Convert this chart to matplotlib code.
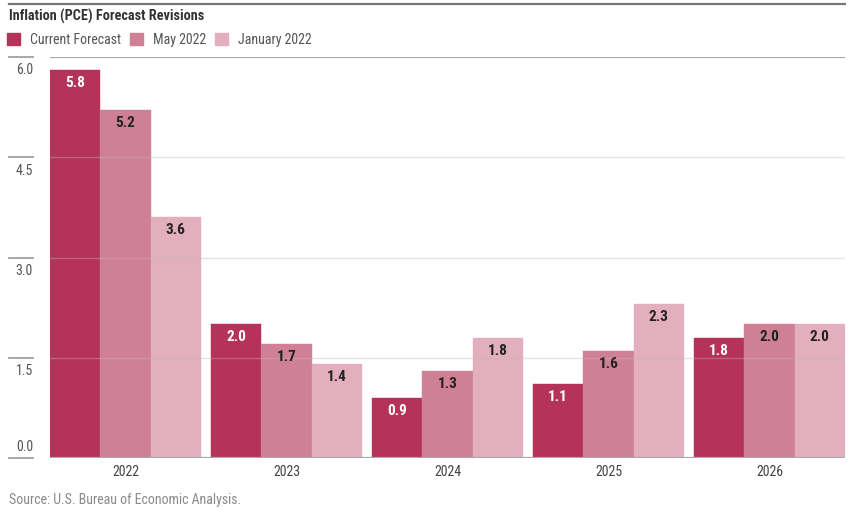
import matplotlib
matplotlib.use("Agg")
import matplotlib.pyplot as plt
import numpy as np
from matplotlib.patches import Patch
from matplotlib.lines import Line2D
from matplotlib import font_manager

names = {f.name for f in font_manager.fontManager.ttflist}
cands = ['Roboto Condensed', 'DejaVu Sans Condensed', 'Liberation Sans Narrow', 'Open Sans Condensed']
chosen = [c for c in cands if c in names]
narrow = bool(chosen)
plt.rcParams['font.family'] = chosen + ['Roboto', 'DejaVu Sans']
scale = 1.0 if narrow else 0.9

years = ["2022", "2023", "2024", "2025", "2026"]
series_names = ["Current Forecast", "May 2022", "January 2022"]
current = [5.8, 2.0, 0.9, 1.1, 1.8]
may2022 = [5.2, 1.7, 1.3, 1.6, 2.0]
jan2022 = [3.6, 1.4, 1.8, 2.3, 2.0]
yticks = [0.0, 1.5, 3.0, 4.5, 6.0]
colors = ["#B5325A", "#CF7F96", "#E3AEBE"]
label_colors = ["white", "#222222", "#222222"]

W, H = 859, 515
fig = plt.figure(figsize=(W / 100, H / 100), dpi=100)
ax = fig.add_axes([50 / W, 1 - 458 / H, (845 - 50) / W, (458 - 57) / H])

fs = 10 * scale
x = np.arange(len(years))
bw = 0.3126
for i, (vals, c, lc) in enumerate(zip([current, may2022, jan2022], colors, label_colors)):
    pos = x + (i - 1) * bw
    bars = ax.bar(pos, vals, width=bw, color=c, edgecolor=c, linewidth=0.3, zorder=2)
    for b, v in zip(bars, vals):
        ax.annotate(f"{v:.1f}", (b.get_x() + b.get_width() / 2, v),
                    xytext=(0, -13), textcoords="offset pixels",
                    ha="center", va="center", fontsize=11 * scale, fontweight="bold",
                    color=lc, zorder=4)

ax.set_xlim(-1.5 * bw, len(years) - 1 + 1.5 * bw)
ax.set_ylim(0, 6)
for s in ax.spines.values():
    s.set_visible(False)
ax.set_yticks([])
ax.set_xticks(x)
ax.set_xticklabels(years, fontsize=fs, color="#444444")
ax.tick_params(axis="x", length=0, pad=5)

for yv in yticks:
    if yv in (0.0, 6.0):
        ax.axhline(yv, color="#a8a8a8", lw=1.6, zorder=3)
    else:
        ax.axhline(yv, color="#bbbbbb", lw=1.0, alpha=0.4, zorder=3)

trans = matplotlib.transforms.blended_transform_factory(fig.transFigure, ax.transData)
for yv in yticks:
    ax.add_line(Line2D([9 / W, 33 / W], [yv, yv], transform=trans, color="#a8a8a8",
                       lw=1.4, clip_on=False))
    if yv == 0.0:
        ax.text(33 / W, yv + 0.06, f"{yv:.1f}", transform=trans, ha="right", va="bottom",
                fontsize=fs, color="#555555", clip_on=False)
    else:
        ax.text(33 / W, yv - 0.2, f"{yv:.1f}", transform=trans, ha="right", va="center",
                fontsize=fs, color="#555555", clip_on=False)

fig.add_artist(Line2D([9 / W, 845 / W], [1 - 4 / H, 1 - 4 / H], color="#777777", lw=1.6))

fig.text(9 / W, 1 - 16 / H, "Inflation (PCE) Forecast Revisions", ha="left", va="center",
         fontsize=10.3 * scale, fontweight="bold", color="#333333")

handles = [Patch(facecolor=c, edgecolor=c, label=n) for c, n in zip(colors, series_names)]
leg = fig.legend(handles=handles, loc="center left", bbox_to_anchor=(4 / W, 1 - 40 / H),
                 ncol=3, frameon=False, fontsize=fs, handlelength=0.95, handleheight=0.95,
                 handletextpad=0.75, columnspacing=0.6, borderaxespad=0, borderpad=0.2)
for t in leg.get_texts():
    t.set_color("#555555")

fig.text(9 / W, 1 - 500 / H, "Source: U.S. Bureau of Economic Analysis.", ha="left",
         va="center", fontsize=fs, color="#8a8a8a")

fig.savefig("out.png", dpi=100)
